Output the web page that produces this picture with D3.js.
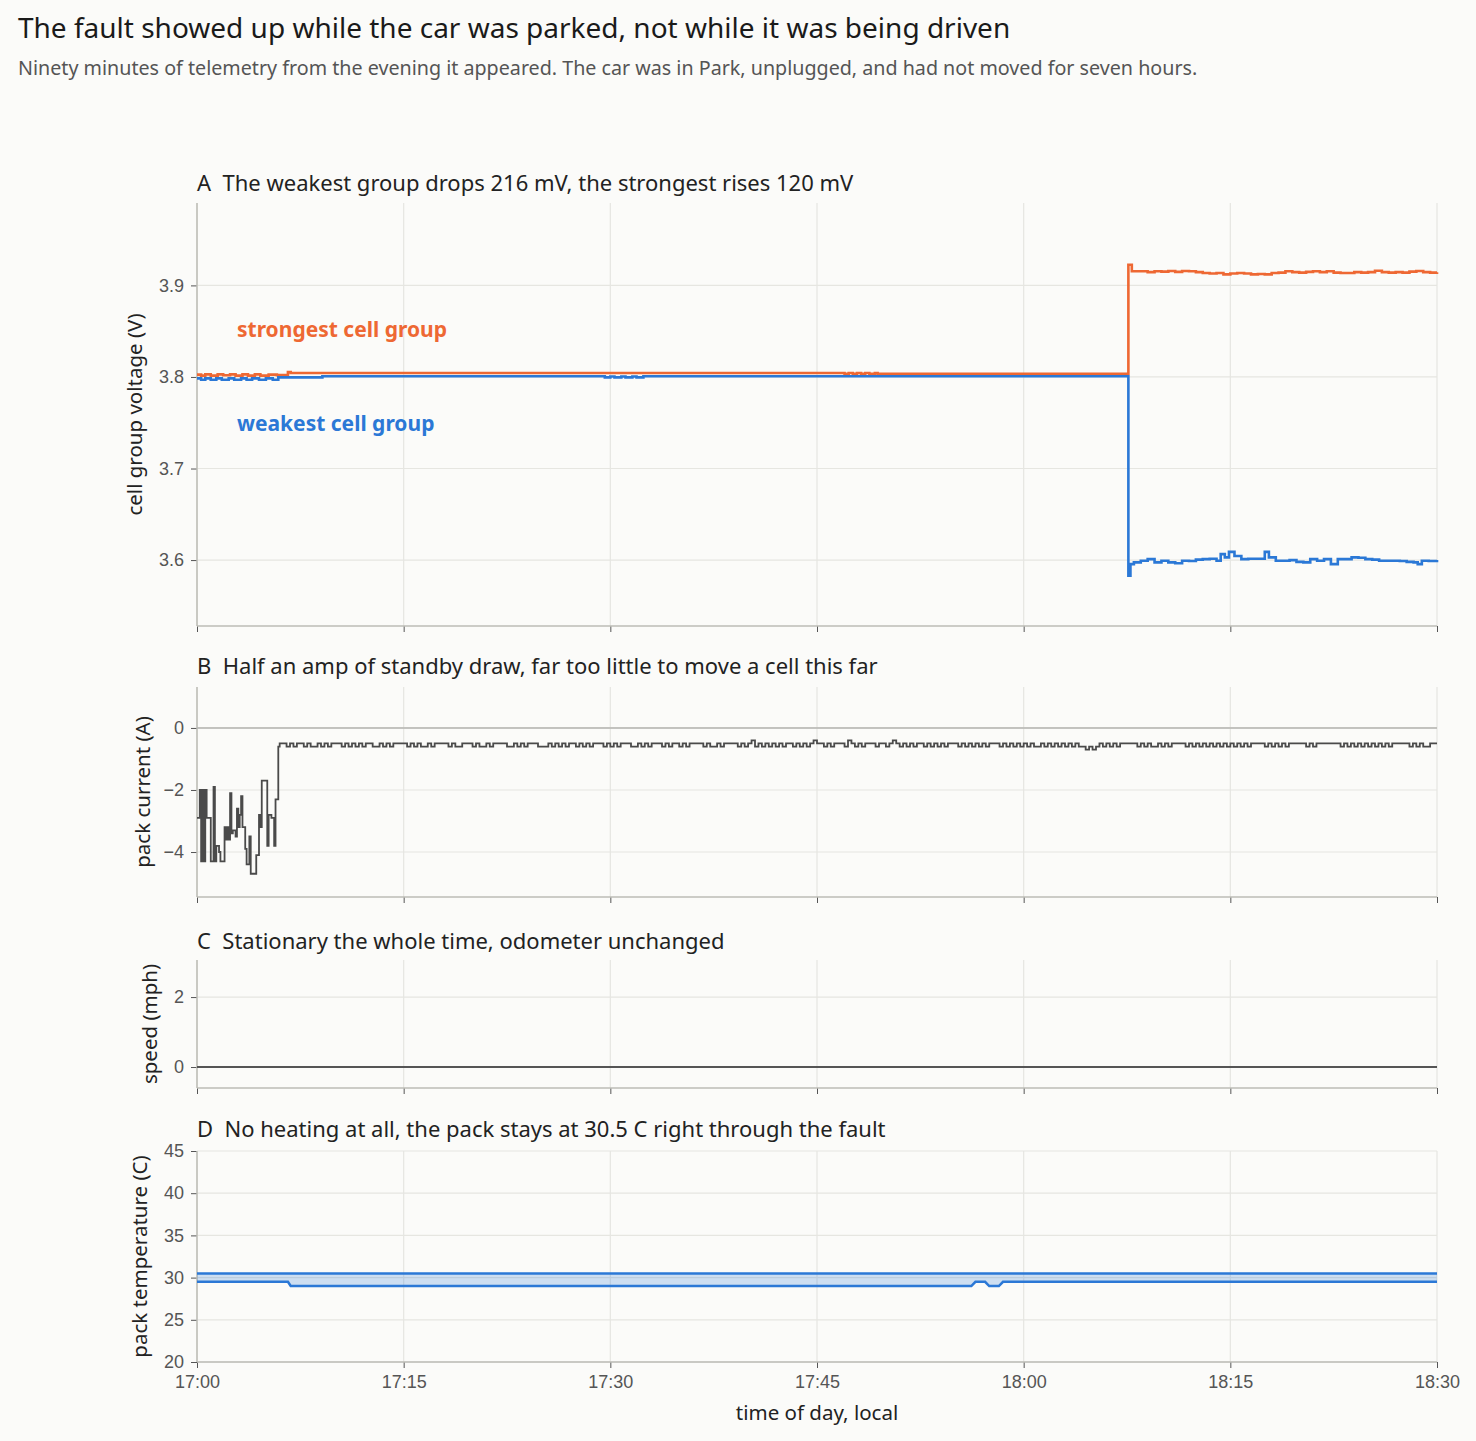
<!DOCTYPE html>
<html><head><meta charset="utf-8">
<script src="https://cdn.jsdelivr.net/npm/d3@7"></script>
<style>
html,body{margin:0;padding:0;background:#fbfbf9;}
svg{display:block;font-family:"Noto Sans","Open Sans",sans-serif;}
</style></head>
<body><svg id="chart" width="1476" height="1441"></svg>
<script>
// ---------- data (minutes after 17:00) ----------
const xTickLabels = ["17:00","17:15","17:30","17:45","18:00","18:15","18:30"];
const voltTicks = [3.6,3.7,3.8,3.9];
const currentTicks = [-4,-2,0];
const speedTicks = [0,2];
const tempTicks = [20,25,30,35,40,45];

// strongest cell group voltage (V), step change-points [minute, value]
const strongestPre = [[0,3.8025],[0.3,3.8015],[0.6,3.8028],[1.0,3.8015],[1.5,3.8028],[1.9,3.8018],[2.4,3.8028],[2.8,3.8015],[3.3,3.8028],[3.7,3.8015],[4.2,3.8028],[4.6,3.8015],[5.2,3.8025],[5.8,3.802],[6.6,3.8055],[6.8,3.8044],[47.0,3.8035],[47.3,3.8044],[47.6,3.8035],[47.9,3.8044],[48.2,3.8035],[48.5,3.8044],[48.8,3.8035],[49.2,3.8044],[49.4,3.8035],[67.6,3.9225]];
const strongestPostTimes = [67.85,68.5,69.0,69.5,70.0,70.5,71.0,71.5,72.0,72.5,73.0,73.5,74.0,74.5,75.0,75.5,76.0,76.5,77.0,77.5,78.0,78.5,79.0,79.5,80.0,80.5,81.0,81.5,82.0,82.5,83.0,83.5,84.0,84.5,85.0,85.5,86.0,86.5,87.0,87.5,88.0,88.5,89.0,89.5,90.0];
const strongestPostVolts = [3.9155,3.9155,3.9145,3.9155,3.915,3.9158,3.9148,3.9158,3.9155,3.9145,3.9135,3.913,3.9135,3.912,3.913,3.9135,3.913,3.912,3.9125,3.912,3.9135,3.914,3.9155,3.9145,3.914,3.9148,3.9155,3.9145,3.9155,3.914,3.9135,3.9135,3.9145,3.914,3.9145,3.916,3.9145,3.914,3.9145,3.914,3.915,3.9158,3.9145,3.914,3.9145];

// weakest cell group voltage (V)
const weakestPre = [[0,3.7985],[0.3,3.797],[0.6,3.7985],[1.0,3.797],[1.4,3.7985],[1.8,3.797],[2.3,3.7985],[2.7,3.797],[3.2,3.7985],[3.6,3.797],[4.0,3.7985],[4.5,3.797],[5.0,3.7985],[5.5,3.797],[5.9,3.7995],[9.1,3.8008],[29.6,3.7995],[30.0,3.8005],[30.3,3.7995],[30.8,3.8005],[31.1,3.7995],[31.6,3.8005],[31.9,3.7995],[32.4,3.8008],[67.6,3.5829]];
const weakestPostTimes = [67.75,68.0,68.5,69.0,69.5,70.0,70.5,71.0,71.5,72.0,72.5,73.0,73.5,74.0,74.3,74.6,74.9,75.3,75.8,76.3,76.8,77.3,77.5,77.8,78.3,78.8,79.3,79.8,80.3,80.8,81.3,81.8,82.3,82.8,83.3,83.8,84.3,84.8,85.3,85.8,86.3,86.8,87.3,87.8,88.3,88.6,88.9,89.4,90.0];
const weakestPostVolts = [3.5956,3.5975,3.5993,3.601,3.5975,3.5993,3.5975,3.5965,3.5993,3.599,3.6005,3.601,3.6015,3.5993,3.6065,3.603,3.609,3.6045,3.601,3.6015,3.6015,3.6015,3.609,3.603,3.5993,3.5993,3.6,3.598,3.5975,3.601,3.5993,3.601,3.5956,3.601,3.601,3.603,3.6025,3.601,3.6005,3.5993,3.5993,3.5993,3.599,3.598,3.5975,3.5956,3.5993,3.599,3.6];

// pack current (A): first 5.9 min sampled every 0.1 min, then every 0.25 min
const currentHead = [-2.9,-2.9,-2.0,-4.3,-2.0,-4.3,-2.0,-2.9,-2.9,-2.9,-4.3,-4.3,-1.9,-4.3,-3.8,-3.8,-4.0,-4.3,-4.3,-4.3,-3.2,-3.6,-3.2,-3.6,-2.1,-3.4,-3.3,-3.3,-3.5,-2.6,-3.2,-2.8,-2.2,-3.2,-3.2,-3.9,-4.4,-4.4,-3.5,-4.7,-4.7,-4.7,-4.7,-4.1,-4.1,-2.8,-3.2,-1.7,-1.7,-1.7,-1.7,-3.8,-2.8,-2.8,-2.9,-2.9,-3.8,-2.3,-2.3,-0.6];
const currentTail = [
-0.5,-0.5,-0.6,-0.5,-0.6,-0.5,-0.5,-0.6,-0.5,-0.6,-0.6,-0.5,-0.6,-0.5,-0.6,-0.5,-0.5,-0.5,-0.6,-0.5,-0.6,-0.5,-0.6,-0.5,
-0.6,-0.5,-0.5,-0.6,-0.6,-0.5,-0.6,-0.5,-0.6,-0.5,-0.5,-0.5,-0.5,-0.6,-0.5,-0.6,-0.5,-0.6,-0.6,-0.5,-0.6,-0.5,-0.5,-0.5,
-0.5,-0.6,-0.5,-0.6,-0.6,-0.5,-0.5,-0.5,-0.6,-0.5,-0.6,-0.6,-0.5,-0.6,-0.5,-0.5,-0.5,-0.5,-0.6,-0.6,-0.5,-0.6,-0.5,-0.6,
-0.5,-0.5,-0.5,-0.6,-0.6,-0.6,-0.5,-0.6,-0.5,-0.6,-0.5,-0.6,-0.5,-0.5,-0.6,-0.5,-0.6,-0.5,-0.6,-0.5,-0.5,-0.5,-0.6,-0.5,
-0.6,-0.5,-0.6,-0.5,-0.5,-0.5,-0.6,-0.6,-0.5,-0.6,-0.5,-0.6,-0.5,-0.5,-0.5,-0.6,-0.5,-0.6,-0.5,-0.5,-0.6,-0.5,-0.6,-0.5,
-0.5,-0.5,-0.5,-0.6,-0.5,-0.6,-0.6,-0.5,-0.6,-0.5,-0.5,-0.5,-0.5,-0.6,-0.5,-0.6,-0.5,-0.4,-0.6,-0.5,-0.6,-0.5,-0.6,-0.5,
-0.6,-0.5,-0.6,-0.5,-0.5,-0.6,-0.5,-0.6,-0.5,-0.6,-0.5,-0.4,-0.5,-0.5,-0.6,-0.5,-0.6,-0.5,-0.5,-0.5,-0.6,-0.4,-0.5,-0.6,
-0.5,-0.6,-0.5,-0.5,-0.5,-0.6,-0.5,-0.5,-0.6,-0.5,-0.4,-0.5,-0.6,-0.5,-0.6,-0.5,-0.6,-0.5,-0.5,-0.6,-0.5,-0.6,-0.5,-0.6,
-0.5,-0.6,-0.5,-0.5,-0.5,-0.6,-0.5,-0.6,-0.5,-0.6,-0.5,-0.6,-0.5,-0.6,-0.5,-0.5,-0.5,-0.6,-0.5,-0.6,-0.5,-0.6,-0.5,-0.6,
-0.5,-0.6,-0.5,-0.6,-0.6,-0.5,-0.6,-0.5,-0.6,-0.5,-0.6,-0.5,-0.6,-0.5,-0.6,-0.5,-0.6,-0.6,-0.7,-0.6,-0.7,-0.6,-0.5,-0.6,
-0.5,-0.6,-0.5,-0.6,-0.5,-0.5,-0.5,-0.5,-0.5,-0.6,-0.5,-0.6,-0.5,-0.6,-0.6,-0.5,-0.6,-0.5,-0.6,-0.5,-0.5,-0.5,-0.5,-0.6,
-0.5,-0.6,-0.5,-0.6,-0.5,-0.6,-0.5,-0.6,-0.5,-0.6,-0.5,-0.6,-0.5,-0.6,-0.5,-0.6,-0.5,-0.6,-0.5,-0.5,-0.5,-0.5,-0.6,-0.5,
-0.6,-0.5,-0.6,-0.5,-0.6,-0.5,-0.5,-0.5,-0.5,-0.5,-0.6,-0.5,-0.6,-0.5,-0.5,-0.5,-0.5,-0.5,-0.5,-0.5,-0.6,-0.5,-0.6,-0.5,
-0.6,-0.5,-0.6,-0.5,-0.6,-0.5,-0.6,-0.5,-0.6,-0.5,-0.6,-0.5,-0.5,-0.5,-0.5,-0.5,-0.6,-0.5,-0.6,-0.5,-0.6,-0.6,-0.5,-0.5,-0.5];

// vehicle speed (mph)
const speedTimes = [0,90];
const speedValues = [0,0];

// pack temperature (C): max and min sensor
const tempMax = [[0,30.5],[90,30.5]];
const tempMin = [[0,29.5],[6.6,29.5],[6.8,29.0],[56.2,29.0],[56.5,29.5],[57.2,29.5],[57.5,29.0],[58.2,29.0],[58.5,29.5],[90,29.5]];

// ---------- build ----------
const base = new Date(2024,0,1,17,0,0);
const tm = m => new Date(base.getTime() + m*60000);

const strongest = strongestPre.concat(strongestPostTimes.map((t,i)=>[t,strongestPostVolts[i]]));
const weakest = weakestPre.concat(weakestPostTimes.map((t,i)=>[t,weakestPostVolts[i]]));
const current = currentHead.map((v,i)=>[+(i*0.1).toFixed(2),v])
  .concat(currentTail.map((v,i)=>[6+i*0.25,v]));
const speed = speedTimes.map((t,i)=>[t,speedValues[i]]);

const svg = d3.select("#chart");
const X0=197, X1=1437;
const x = d3.scaleTime().domain([tm(0),tm(90)]).range([X0,X1]);
const xTicks = xTickLabels.map((_,i)=>tm(i*15));

const GRID="#e6e6e1", AXIS="#bdbdb6", TXT="#222", TICKTXT="#555";
const ORANGE="#ee6833", BLUE="#2b78d6";

svg.append("text").attr("x",18).attr("y",38).attr("font-size",28).attr("fill","#1a1a1a")
  .text("The fault showed up while the car was parked, not while it was being driven");
svg.append("text").attr("x",18).attr("y",75).attr("font-size",19.7).attr("fill","#555")
  .text("Ninety minutes of telemetry from the evening it appeared. The car was in Park, unplugged, and had not moved for seven hours.");

function panel(o){
  const y = d3.scaleLinear().domain(o.domain).range([o.bottom,o.top]);
  const g = svg.append("g");
  g.append("g").selectAll("line").data(o.ticks).join("line")
    .attr("x1",X0).attr("x2",X1).attr("y1",d=>y(d)).attr("y2",d=>y(d))
    .attr("stroke",GRID).attr("stroke-width",1.2);
  g.append("g").selectAll("line").data(xTicks).join("line")
    .attr("x1",d=>x(d)).attr("x2",d=>x(d)).attr("y1",o.top).attr("y2",o.bottom)
    .attr("stroke",GRID).attr("stroke-width",1.2);
  const ya = g.append("g").attr("transform",`translate(${X0},0)`)
    .call(d3.axisLeft(y).tickValues(o.ticks).tickSize(6).tickPadding(7).tickFormat(o.fmt||d3.format("")));
  ya.select(".domain").remove();
  ya.selectAll(".tick line").attr("stroke","#555");
  ya.selectAll(".tick text").attr("fill",TICKTXT).attr("font-size",18).attr("font-family",null);
  g.append("line").attr("x1",X0).attr("x2",X0).attr("y1",o.top).attr("y2",o.bottom)
    .attr("stroke",AXIS).attr("stroke-width",1.5);
  const xa = g.append("g").attr("transform",`translate(0,${o.bottom})`)
    .call(d3.axisBottom(x).tickValues(xTicks).tickSize(6).tickPadding(7)
      .tickFormat((d,i)=>o.showX?xTickLabels[i]:""));
  xa.select(".domain").remove();
  xa.selectAll(".tick line").attr("stroke","#555");
  xa.selectAll(".tick text").attr("fill",TICKTXT).attr("font-size",18).attr("font-family",null);
  g.append("line").attr("x1",X0).attr("x2",X1).attr("y1",o.bottom).attr("y2",o.bottom)
    .attr("stroke",AXIS).attr("stroke-width",1.5);
  svg.append("text").attr("x",X0).attr("y",o.titleY).attr("font-size",22).attr("fill",TXT).attr("xml:space","preserve").text(o.title);
  svg.append("text").attr("transform",`translate(${o.labelX},${(o.top+o.bottom)/2}) rotate(-90)`)
    .attr("text-anchor","middle").attr("font-size",20.5).attr("fill",TXT).text(o.label);
  return {y,g};
}

// A
const pA = panel({top:203,bottom:626,domain:[3.528,3.99],ticks:voltTicks,fmt:d3.format(".1f"),
  title:"A  The weakest group drops 216 mV, the strongest rises 120 mV",titleY:191,
  label:"cell group voltage (V)",labelX:142});
const lineA = d3.line().x(d=>x(tm(d[0]))).y(d=>pA.y(d[1])).curve(d3.curveStepAfter);
pA.g.append("path").datum(strongest.concat([[90,strongestPostVolts[strongestPostVolts.length-1]]])).attr("d",lineA)
  .attr("fill","none").attr("stroke",ORANGE).attr("stroke-width",2.6);
pA.g.append("path").datum(weakest.concat([[90,weakestPostVolts[weakestPostVolts.length-1]]])).attr("d",lineA)
  .attr("fill","none").attr("stroke",BLUE).attr("stroke-width",2.6);
svg.append("text").attr("x",237).attr("y",337).attr("font-size",21).attr("font-weight","bold").attr("fill",ORANGE).text("strongest cell group");
svg.append("text").attr("x",237).attr("y",431).attr("font-size",21).attr("font-weight","bold").attr("fill",BLUE).text("weakest cell group");

// B
const pB = panel({top:687,bottom:897,domain:[-5.45,1.32],ticks:currentTicks,
  title:"B  Half an amp of standby draw, far too little to move a cell this far",titleY:674,
  label:"pack current (A)",labelX:150});
pB.g.append("line").attr("x1",X0).attr("x2",X1).attr("y1",pB.y(0)).attr("y2",pB.y(0))
  .attr("stroke","#b5b5b0").attr("stroke-width",1.5);
pB.g.append("path").datum(current).attr("d",d3.line().x(d=>x(tm(d[0]))).y(d=>pB.y(d[1])).curve(d3.curveStepAfter))
  .attr("fill","none").attr("stroke","#4a4a4a").attr("stroke-width",1.8);

// C
const pC = panel({top:960,bottom:1088,domain:[-0.6,3.06],ticks:speedTicks,
  title:"C  Stationary the whole time, odometer unchanged",titleY:949,
  label:"speed (mph)",labelX:157});
pC.g.append("path").datum(speed).attr("d",d3.line().x(d=>x(tm(d[0]))).y(d=>pC.y(d[1])))
  .attr("fill","none").attr("stroke","#555").attr("stroke-width",2.2);

// D
const pD = panel({top:1151,bottom:1362,domain:[20,45],ticks:tempTicks,showX:true,
  title:"D  No heating at all, the pack stays at 30.5 C right through the fault",titleY:1137,
  label:"pack temperature (C)",labelX:147});
pD.g.append("path").datum(tempMin)
  .attr("d",d3.area().x(d=>x(tm(d[0]))).y0(d=>pD.y(d[1])).y1(d=>pD.y(tempMax[0][1])))
  .attr("fill",BLUE).attr("fill-opacity",0.22);
const lineD = d3.line().x(d=>x(tm(d[0]))).y(d=>pD.y(d[1]));
pD.g.append("path").datum(tempMax).attr("d",lineD).attr("fill","none").attr("stroke",BLUE).attr("stroke-width",2.5);
pD.g.append("path").datum(tempMin).attr("d",lineD).attr("fill","none").attr("stroke",BLUE).attr("stroke-width",2.5);

svg.append("text").attr("x",(X0+X1)/2).attr("y",1420).attr("text-anchor","middle").attr("font-size",20.5).attr("fill",TXT).text("time of day, local");
</script></body></html>
